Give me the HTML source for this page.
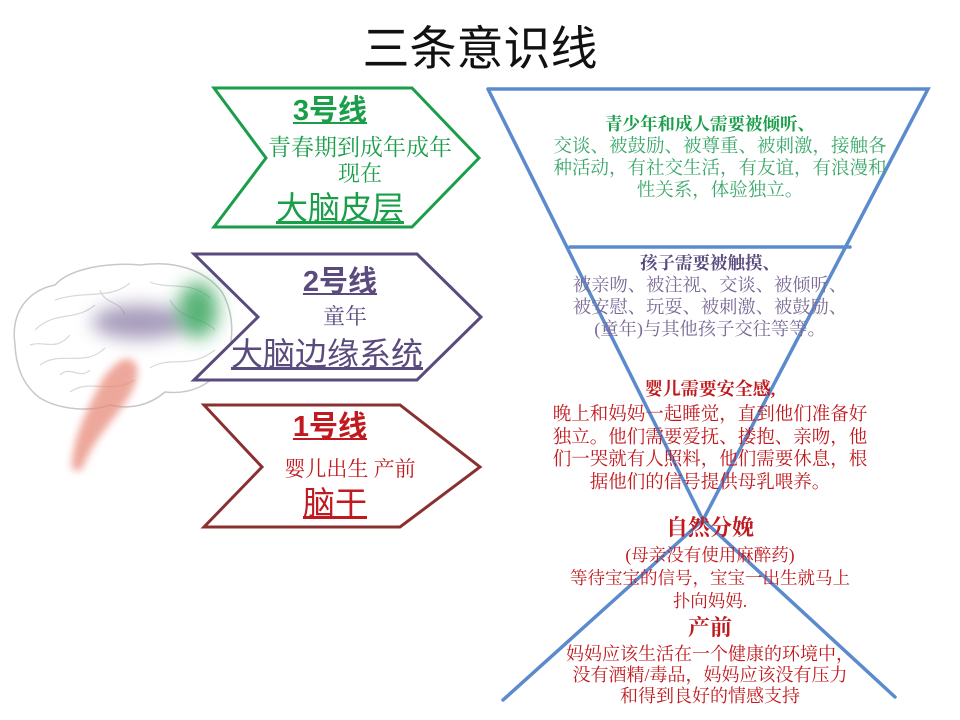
<!DOCTYPE html>
<html><head><meta charset="utf-8"><style>
body{margin:0;width:960px;height:720px;background:#fff;position:relative;overflow:hidden;font-family:"Liberation Serif","Noto Serif CJK SC",serif}
.t{position:absolute;text-align:center;white-space:nowrap;line-height:1}
.s{font-family:"Liberation Sans","Noto Sans CJK SC",sans-serif}
</style></head><body>
<svg width="960" height="720" style="position:absolute;left:0;top:0">
<defs>
<filter id="b1" x="-100%" y="-100%" width="300%" height="300%"><feGaussianBlur stdDeviation="9"/></filter>
<filter id="b2" x="-100%" y="-100%" width="300%" height="300%"><feGaussianBlur stdDeviation="4"/></filter>
</defs>
<g>
<path d="M15,345 C10,310 30,290 55,285 C70,268 110,262 140,265 C175,260 205,270 222,292 C235,315 235,345 222,368 C210,385 190,395 165,392 C150,405 130,410 110,405 C90,412 60,410 40,398 C22,385 16,365 15,345 Z" fill="#fff" stroke="#c8c8c8" stroke-width="1.5"/>
<path d="M35,330 C55,310 75,322 95,305 M55,300 C85,290 110,300 130,283 M150,282 C170,290 190,280 210,298 M40,365 C60,350 85,368 105,348 M150,368 C170,355 190,370 215,350 M70,392 C90,378 110,395 135,380 M30,345 C45,340 55,352 70,335 M170,300 C180,320 200,315 215,330 M100,290 C105,305 120,300 125,315 M60,375 C70,365 80,380 90,370" fill="none" stroke="#d8d8d8" stroke-width="1.2"/>
<ellipse cx="140" cy="322" rx="48" ry="17" fill="#8a7ca6" opacity="0.75" filter="url(#b1)"/>
<ellipse cx="198" cy="310" rx="20" ry="28" fill="#2fa055" opacity="0.8" filter="url(#b1)"/>
<path d="M118,362 C135,352 145,368 130,395 C115,420 92,440 82,470 L72,470 C70,440 92,400 105,375 Z" fill="#e88a7a" opacity="0.75" filter="url(#b2)"/>
</g>
<polygon points="214,88 412,88 479,158 412,227 214,227 266,158" fill="#fff" stroke="#1a9e4a" stroke-width="3"/>
<polygon points="194,254 417,254 481,317 417,380 194,380 258,317" fill="#fff" stroke="#5a4a7e" stroke-width="3"/>
<polygon points="204,405 400,405 480,467 400,527 204,527 262,467" fill="#fff" stroke="#8b3030" stroke-width="3"/>
<g stroke="#5b8bcc" stroke-width="3.5" fill="none" stroke-linecap="round">
<polyline points="488,89 928,89 703,520 488,89"/>
<line x1="570" y1="247" x2="850" y2="247"/>
<line x1="703" y1="520" x2="503" y2="700"/>
<line x1="703" y1="520" x2="895" y2="697"/>
</g>
</svg>
<div class="t s" style="left:0;width:960px;top:25px;font-size:47px;color:#111">三条意识线</div>

<div class="t s" style="left:230px;width:200px;top:97px;font-size:29px;color:#1a9e4a;font-weight:bold;text-decoration:underline">3号线</div>
<div class="t" style="left:255px;width:210px;top:136px;font-size:23px;color:#1a9e4a">青春期到成年成年</div>
<div class="t" style="left:255px;width:210px;top:163px;font-size:22px;color:#1a9e4a">现在</div>
<div class="t s" style="left:235px;width:210px;top:192px;font-size:32px;color:#1a9e4a;text-decoration:underline">大脑皮层</div>

<div class="t s" style="left:240px;width:200px;top:268px;font-size:29px;color:#5a4a7e;font-weight:bold;text-decoration:underline">2号线</div>
<div class="t" style="left:240px;width:210px;top:306px;font-size:22px;color:#5a4a7e">童年</div>
<div class="t s" style="left:222px;width:210px;top:338px;font-size:32px;color:#5a4a7e;text-decoration:underline">大脑边缘系统</div>

<div class="t s" style="left:230px;width:200px;top:413px;font-size:29px;color:#c0191e;font-weight:bold;text-decoration:underline">1号线</div>
<div class="t" style="left:245px;width:210px;top:459px;font-size:21px;color:#c0191e">婴儿出生 产前</div>
<div class="t s" style="left:230px;width:210px;top:487px;font-size:32px;color:#c0191e;text-decoration:underline">脑干</div>

<div class="t" style="left:560px;width:300px;top:114px;font-size:17.5px;color:#1a9e4a;font-weight:bold;line-height:20px">青少年和成人需要被倾听、</div>
<div class="t" style="left:520px;width:400px;top:136px;font-size:18.5px;color:#3aa86a;line-height:22px">交谈、被鼓励、被尊重、被刺激，接触各<br>种活动，有社交生活，有友谊，有浪漫和<br>性关系，体验独立。</div>

<div class="t" style="left:560px;width:300px;top:253px;font-size:17.5px;color:#5a4a7e;font-weight:bold;line-height:20px">孩子需要被触摸、</div>
<div class="t" style="left:540px;width:340px;top:274px;font-size:18.3px;color:#7a6a96;line-height:22px">被亲吻、被注视、交谈、被倾听、<br>被安慰、玩耍、被刺激、被鼓励、<br>(童年)与其他孩子交往等等。</div>

<div class="t" style="left:560px;width:300px;top:380px;font-size:18px;color:#c0191e;font-weight:bold">婴儿需要安全感,</div>
<div class="t" style="left:520px;width:380px;top:404px;font-size:18.5px;color:#c0191e;line-height:22.5px">晚上和妈妈一起睡觉，直到他们准备好<br>独立。他们需要爱抚、搂抱、亲吻，他<br>们一哭就有人照料，他们需要休息，根<br>据他们的信号提供母乳喂养。</div>

<div class="t" style="left:560px;width:300px;top:517px;font-size:22px;color:#c0191e;font-weight:bold">自然分娩</div>
<div class="t" style="left:520px;width:380px;top:544px;font-size:17.5px;color:#c0191e;line-height:23px">(母亲没有使用麻醉药)<br>等待宝宝的信号，宝宝一出生就马上<br>扑向妈妈.</div>
<div class="t" style="left:560px;width:300px;top:617px;font-size:22px;color:#c0191e;font-weight:bold">产前</div>
<div class="t" style="left:520px;width:380px;top:644px;font-size:18px;color:#c0191e;line-height:21px">妈妈应该生活在一个健康的环境中，<br>没有酒精/毒品，妈妈应该没有压力<br>和得到良好的情感支持</div>
</body></html>
